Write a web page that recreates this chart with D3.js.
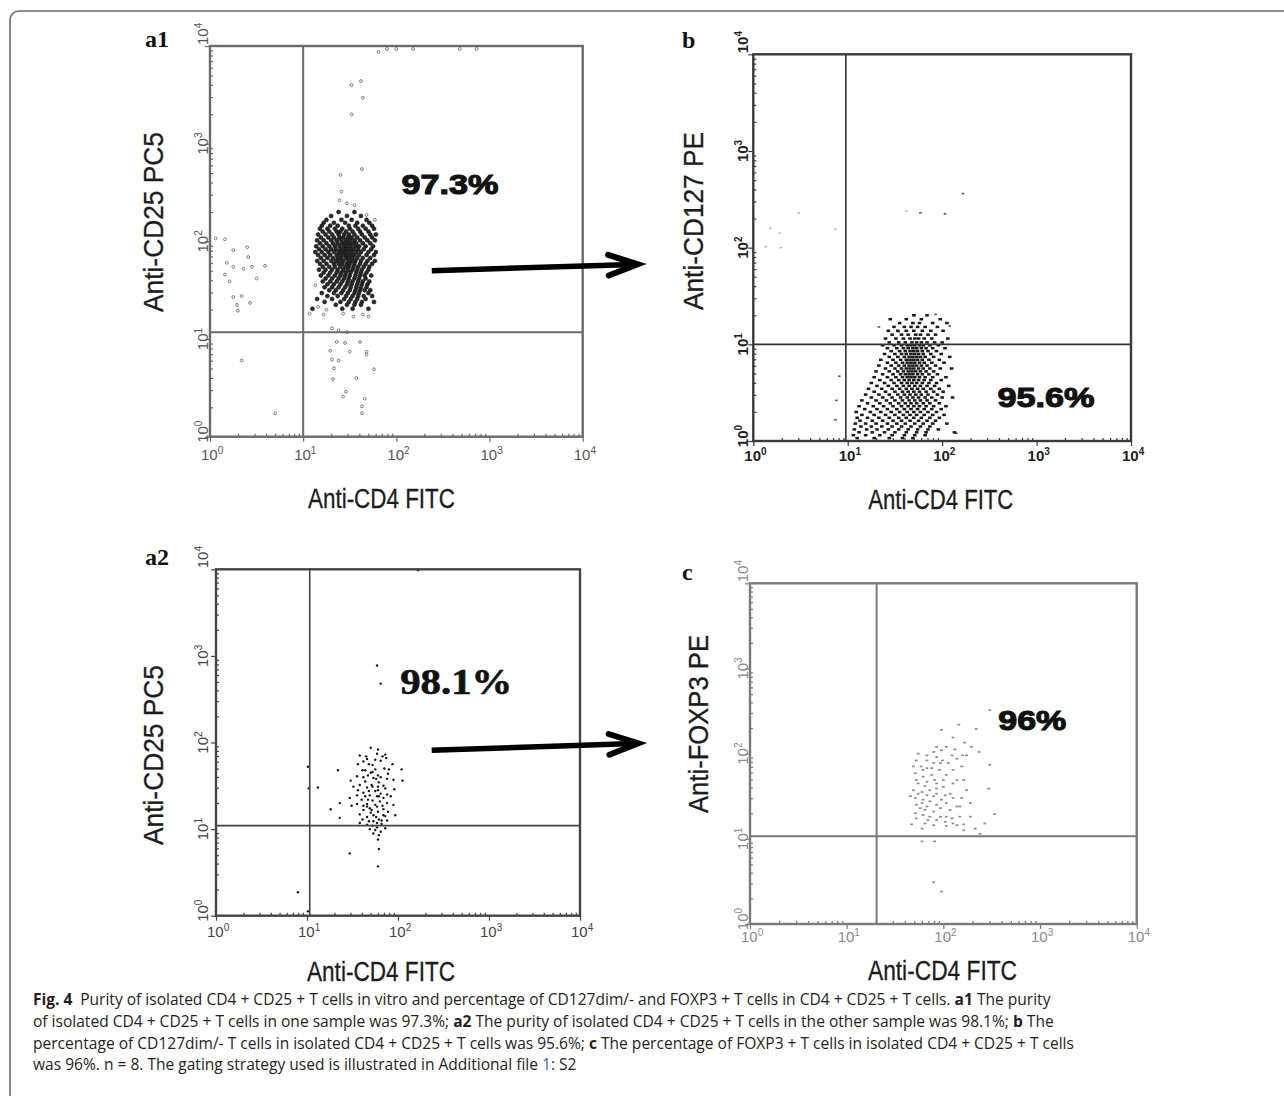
<!DOCTYPE html>
<html><head><meta charset="utf-8">
<script src="https://cdn.jsdelivr.net/npm/d3@7/dist/d3.min.js"></script>
<style>body{margin:0;background:#fff}svg{display:block}</style>
</head><body>
<svg id="fig" width="1284" height="1096"></svg>
<script>
// ---------------- DATA (log10 decades of fluorescence intensity) ----------------
const decades = [0, 1, 2, 3, 4];
const minorFactors = [2, 3, 4, 5, 6, 7, 8, 9];
const panelIds = ["a1", "b", "a2", "c"];
const xTitles = ["Anti-CD4 FITC", "Anti-CD4 FITC", "Anti-CD4 FITC", "Anti-CD4 FITC"];
const yTitles = ["Anti-CD25 PC5", "Anti-CD127 PE", "Anti-CD25 PC5", "Anti-FOXP3 PE"];
const percentLabels = ["97.3%", "95.6%", "98.1%", "96%"];
const percentPos = [[2.575, 2.58], [3.10, 0.455], [2.64, 2.69], [2.92, 2.39]];
const gates = [[1.00, 1.07], [0.98, 1.00], [1.03, 1.04], [1.31, 1.03]];
const arrowA1 = [[2.38, 1.70], [4.59, 1.765]];
const arrowA2 = [[2.37, 1.91], [4.64, 1.99]];

// a1: dense CD4+CD25+ cluster, rows of [log CD25, [log CD4 ...]]
const a1CoreRows = [
 [2.30,[1.38,1.55]],
 [2.26,[1.30,1.47,1.62]],
 [2.22,[1.25,1.41,1.52,1.68]],
 [2.19,[1.22,1.33,1.45,1.58,1.71]],
 [2.16,[1.20,1.29,1.37,1.49,1.56,1.64,1.74]],
 [2.13,[1.18,1.26,1.34,1.42,1.50,1.59,1.67,1.76]],
 [2.10,[1.21,1.28,1.36,1.40,1.46,1.53,1.61,1.70]],
 [2.07,[1.16,1.24,1.31,1.38,1.44,1.49,1.55,1.63,1.72,1.78]],
 [2.04,[1.19,1.27,1.33,1.39,1.43,1.48,1.52,1.58,1.66,1.74]],
 [2.01,[1.15,1.22,1.30,1.36,1.41,1.46,1.50,1.55,1.61,1.69,1.77]],
 [1.98,[1.18,1.25,1.32,1.37,1.42,1.45,1.49,1.53,1.57,1.64,1.72]],
 [1.95,[1.14,1.21,1.28,1.34,1.39,1.44,1.47,1.51,1.56,1.60,1.67,1.75]],
 [1.92,[1.17,1.24,1.30,1.35,1.40,1.43,1.46,1.50,1.54,1.59,1.65,1.73]],
 [1.89,[1.13,1.20,1.27,1.33,1.38,1.42,1.45,1.48,1.52,1.57,1.62,1.70,1.78]],
 [1.86,[1.16,1.23,1.29,1.36,1.40,1.44,1.47,1.51,1.55,1.60,1.68,1.76]],
 [1.83,[1.19,1.26,1.32,1.37,1.41,1.46,1.49,1.53,1.58,1.64,1.72]],
 [1.80,[1.15,1.22,1.30,1.35,1.39,1.43,1.48,1.52,1.56,1.62,1.69,1.77]],
 [1.77,[1.18,1.25,1.33,1.38,1.42,1.47,1.50,1.55,1.61,1.67,1.74]],
 [1.74,[1.21,1.28,1.34,1.40,1.45,1.49,1.54,1.59,1.65,1.71]],
 [1.71,[1.17,1.24,1.31,1.37,1.43,1.48,1.53,1.58,1.63,1.70]],
 [1.68,[1.22,1.29,1.36,1.41,1.46,1.51,1.57,1.62,1.68]],
 [1.65,[1.19,1.27,1.34,1.40,1.45,1.50,1.56,1.61,1.66,1.73]],
 [1.62,[1.24,1.31,1.38,1.44,1.49,1.55,1.60,1.67]],
 [1.59,[1.21,1.29,1.36,1.42,1.48,1.53,1.59,1.64,1.71]],
 [1.56,[1.26,1.33,1.40,1.47,1.52,1.58,1.63,1.69]],
 [1.53,[1.23,1.31,1.38,1.45,1.51,1.57,1.62,1.68]],
 [1.50,[1.28,1.35,1.43,1.50,1.56,1.61,1.66,1.72]],
 [1.47,[1.20,1.33,1.41,1.48,1.55,1.60,1.70]],
 [1.44,[1.26,1.37,1.46,1.53,1.59,1.65,1.74]],
 [1.41,[1.15,1.31,1.44,1.51,1.58,1.67]],
 [1.38,[1.23,1.40,1.49,1.56,1.63,1.76]],
 [1.35,[1.35,1.47,1.55,1.62]],
 [1.31,[1.10,1.42,1.53,1.70]]
];
// a1: scattered events [log CD4, log CD25]
const a1Sparse = [
 [1.07,1.26],[1.13,1.55],[1.16,1.33],[1.25,1.30],[1.31,1.11],[1.38,1.09],[1.47,1.07],[1.36,0.97],
 [1.45,0.96],[1.61,0.97],[1.29,0.88],[1.50,0.87],[1.68,0.87],[1.31,0.79],[1.38,0.78],[1.68,0.84],
 [1.33,0.70],[1.76,0.69],[1.32,0.59],[1.57,0.60],[1.46,0.46],[1.43,0.41],[1.66,0.39],[1.63,0.31],
 [1.63,0.24],[1.54,1.23],[1.64,1.25],[1.70,1.23],[1.43,1.26],[1.22,1.25],
 [1.52,3.60],[1.62,3.64],[1.64,3.47],[1.52,3.30],[1.63,2.74],[1.40,2.68],[1.41,2.51],[1.47,2.39],
 [1.55,2.37],[1.68,2.27],[1.77,2.22],[1.39,2.42],
 [1.81,3.94],[1.90,3.97],[2.00,3.97],[2.18,3.97],[2.68,3.97],[2.86,3.97],
 [0.06,2.03],[0.16,2.02],[0.25,1.91],[0.40,1.94],[0.41,1.84],[0.18,1.78],[0.25,1.74],[0.36,1.72],
 [0.45,1.74],[0.59,1.75],[0.16,1.66],[0.21,1.59],[0.50,1.62],[0.25,1.43],[0.34,1.44],[0.29,1.35],
 [0.30,1.29],[0.43,1.37],[0.34,0.78],[0.70,0.24]
];

// b: CD127 dim/- cluster, rows of [log CD127, [log CD4 ...]]
const bCoreRows = [
 [1.30,[1.70,1.84]],
 [1.26,[1.45,1.62,1.78,1.98]],
 [1.22,[1.55,1.69,1.76,1.90,2.05]],
 [1.18,[1.49,1.60,1.67,1.74,1.82,1.95]],
 [1.14,[1.43,1.53,1.62,1.70,1.79,1.88,2.01]],
 [1.10,[1.47,1.57,1.64,1.72,1.77,1.85,1.93]],
 [1.06,[1.40,1.51,1.59,1.66,1.71,1.75,1.81,1.89,2.06]],
 [1.02,[1.44,1.54,1.61,1.68,1.73,1.78,1.84,1.92,2.00]],
 [0.99,[1.37,1.49,1.57,1.63,1.67,1.71,1.76,1.80,1.87,1.96]],
 [0.96,[1.42,1.52,1.59,1.64,1.69,1.73,1.78,1.83,1.90,2.03]],
 [0.93,[1.46,1.55,1.61,1.66,1.70,1.74,1.79,1.85,1.94]],
 [0.90,[1.39,1.50,1.57,1.62,1.67,1.71,1.75,1.80,1.88,1.99]],
 [0.87,[1.44,1.53,1.60,1.65,1.69,1.73,1.77,1.82,1.91,2.08]],
 [0.84,[1.35,1.48,1.56,1.62,1.66,1.70,1.74,1.79,1.86,1.97]],
 [0.81,[1.42,1.51,1.58,1.63,1.67,1.71,1.76,1.81,1.89,2.02]],
 [0.78,[1.33,1.46,1.54,1.60,1.65,1.69,1.73,1.78,1.84,1.93]],
 [0.75,[1.40,1.50,1.57,1.62,1.66,1.70,1.75,1.80,1.87,1.98,2.10]],
 [0.72,[1.30,1.44,1.53,1.59,1.64,1.68,1.72,1.77,1.83,1.91]],
 [0.69,[1.37,1.48,1.56,1.61,1.65,1.69,1.74,1.79,1.86,1.95]],
 [0.66,[1.28,1.42,1.51,1.58,1.63,1.67,1.71,1.76,1.82,1.90,2.04]],
 [0.63,[1.34,1.46,1.54,1.60,1.65,1.70,1.75,1.81,1.88,1.99]],
 [0.60,[1.25,1.39,1.49,1.57,1.63,1.68,1.73,1.79,1.86,1.94]],
 [0.57,[1.31,1.43,1.52,1.59,1.65,1.71,1.77,1.84,1.92,2.07]],
 [0.54,[1.22,1.36,1.47,1.55,1.62,1.68,1.74,1.80,1.88,1.97]],
 [0.51,[1.28,1.40,1.50,1.58,1.64,1.70,1.76,1.83,1.91,2.01]],
 [0.48,[1.19,1.33,1.44,1.53,1.60,1.66,1.72,1.78,1.85,1.95]],
 [0.45,[1.25,1.37,1.47,1.56,1.63,1.69,1.75,1.82,1.89,2.00,2.11]],
 [0.42,[1.15,1.30,1.41,1.50,1.58,1.65,1.71,1.77,1.84,1.93]],
 [0.39,[1.21,1.34,1.45,1.54,1.61,1.67,1.73,1.80,1.87,1.97]],
 [0.36,[1.12,1.27,1.38,1.48,1.57,1.64,1.70,1.76,1.83,1.91,2.04]],
 [0.33,[1.18,1.31,1.42,1.52,1.60,1.67,1.74,1.81,1.89,1.99]],
 [0.30,[1.09,1.24,1.35,1.46,1.55,1.63,1.70,1.77,1.85,1.94]],
 [0.27,[1.15,1.28,1.40,1.50,1.59,1.66,1.73,1.81,1.90,2.02]],
 [0.24,[1.10,1.21,1.33,1.44,1.54,1.62,1.70,1.78,1.87,1.97]],
 [0.21,[1.13,1.26,1.37,1.48,1.57,1.66,1.75,1.84,1.93]],
 [0.18,[1.08,1.19,1.30,1.42,1.52,1.61,1.71,1.80,1.90,2.05]],
 [0.15,[1.14,1.25,1.36,1.47,1.57,1.67,1.77,1.87]],
 [0.12,[1.07,1.20,1.31,1.43,1.54,1.64,1.74,1.85,1.96]],
 [0.09,[1.12,1.26,1.39,1.50,1.62,1.73,1.83,2.13]],
 [0.06,[1.06,1.19,1.34,1.47,1.60,1.71,1.82]],
 [0.03,[1.10,1.28,1.44,1.58,1.69]]
];
const bSparse = [
 [1.77,2.36],[2.03,2.35],[2.22,2.56],[0.91,0.67],[0.88,0.42],[0.87,0.22],[1.33,1.18],
 [1.71,1.30],[1.93,1.31],[2.08,1.19],[1.54,1.13],[2.15,0.08]
];
const bFaint = [[0.18,2.20],[0.28,2.15],[0.48,2.36],[0.87,2.19],[0.13,2.01],[0.29,2.00],[1.62,2.38]];

// a2: events [log CD4, log CD25]
const a2Events = [
 [1.70,1.94],[1.78,1.92],[1.77,1.87],[1.86,1.86],[1.58,1.85],[1.66,1.81],[1.75,1.80],[1.81,1.79],
 [1.68,1.75],[1.56,1.75],[1.94,1.75],[1.34,1.68],[1.61,1.68],[1.75,1.69],[1.85,1.70],[1.90,1.69],
 [2.04,1.69],[1.70,1.65],[1.78,1.62],[1.62,1.60],[1.81,1.60],[1.73,1.59],[1.88,1.58],[1.48,1.56],
 [2.05,1.56],[1.58,1.51],[1.71,1.51],[1.78,1.49],[1.66,1.48],[1.86,1.47],[1.56,1.45],[1.75,1.44],
 [1.62,1.42],[1.81,1.41],[1.69,1.39],[1.88,1.40],[1.77,1.38],[1.84,1.36],[1.60,1.34],[1.47,1.36],
 [1.72,1.33],[1.80,1.32],[1.88,1.30],[1.55,1.29],[1.66,1.29],[1.95,1.28],[1.77,1.26],[1.36,1.30],
 [1.49,1.27],[1.69,1.24],[1.84,1.23],[1.62,1.22],[1.78,1.20],[1.89,1.20],[1.58,1.17],[1.73,1.16],
 [1.26,1.23],[1.86,1.15],[1.97,1.16],[1.66,1.14],[1.36,1.13],[1.79,1.11],[1.73,1.09],[1.88,1.10],
 [1.58,1.07],[1.66,1.05],[1.82,1.06],[1.77,1.02],[1.69,1.00],[1.86,1.01],[1.73,0.95],[1.79,0.93],
 [1.78,0.88],[1.47,0.72],[1.79,0.77],[1.78,0.57],[1.12,1.48],[0.90,0.27],[1.01,0.05],[1.01,1.72],
 [1.02,1.47],[1.77,2.89],[1.81,2.68],[2.22,3.99],
 [1.67,1.62],[1.72,1.66],[1.64,1.55],[1.79,1.54],[1.76,1.58],[1.68,1.44],[1.64,1.38],[1.79,1.38],
 [1.75,1.28],[1.70,1.19],[1.83,1.27],[1.66,1.26],[1.92,1.38],[1.55,1.39],[1.96,1.46],[1.51,1.49],
 [1.82,1.10],[1.61,1.11],[1.77,1.07],[1.72,1.04],[1.84,1.16],[1.62,1.27],[1.67,1.34],[1.78,1.45],
 [1.84,1.50],[1.55,1.61],[1.72,1.49],[1.76,1.14],[1.71,1.22],[1.75,0.99],[1.81,0.97],[1.68,1.09],
 [1.64,1.68],[1.89,1.64],[1.95,1.57],[1.87,1.82],[1.62,1.78],[1.65,1.84],[1.83,1.84],[1.72,1.74]
];

// c: events [log CD4, log FOXP3]
const cEvents = [
 [2.48,2.51],[2.16,2.34],[2.34,2.29],[1.98,2.28],[2.10,2.19],[2.22,2.13],[1.93,2.08],[2.03,2.08],
 [2.12,2.05],[2.37,2.02],[2.20,1.98],[2.24,1.98],[1.74,2.00],[1.83,1.98],[1.99,1.92],[1.93,1.96],
 [1.69,1.85],[1.77,1.85],[1.83,1.92],[1.90,1.89],[1.96,1.81],[2.10,1.81],[2.19,1.85],[2.48,1.87],
 [1.71,1.77],[1.79,1.73],[1.88,1.75],[2.03,1.75],[2.14,1.69],[1.74,1.65],[1.83,1.67],[1.93,1.65],
 [2.00,1.61],[2.10,1.65],[1.69,1.57],[1.78,1.55],[1.86,1.57],[1.93,1.59],[2.47,1.59],[2.07,1.53],
 [1.71,1.48],[1.79,1.46],[1.90,1.50],[1.98,1.46],[2.10,1.48],[2.19,1.48],[1.83,1.38],[1.93,1.40],
 [2.03,1.42],[1.76,1.36],[1.90,1.32],[1.79,1.28],[1.86,1.26],[1.97,1.26],[2.09,1.24],[2.17,1.26],
 [2.28,1.26],[2.53,1.29],[1.67,1.17],[1.81,1.18],[1.90,1.16],[2.03,1.15],[2.14,1.16],[2.21,1.17],
 [2.43,1.18],[2.38,1.06],[1.78,0.97],[1.91,0.97],[1.90,0.49],[1.98,0.38],
 [1.72,1.92],[1.79,1.81],[1.88,1.83],[1.72,1.69],[1.81,1.62],[1.91,1.69],[2.00,1.69],[1.74,1.53],
 [1.83,1.51],[1.93,1.53],[2.02,1.51],[1.78,1.42],[1.86,1.44],[1.97,1.36],[2.07,1.34],[1.81,1.34],
 [1.71,1.30],[1.93,1.22],[2.02,1.20],[1.84,1.22],[2.10,1.18],[1.72,1.24],[2.17,1.38],[2.28,1.42],
 [2.05,1.89],[2.14,1.94],[2.29,2.08],[2.21,1.69],[2.24,1.57],[1.98,2.04],[1.90,2.02],[2.09,1.98],
 [1.83,1.83],[1.97,1.89],[1.72,1.40],[1.66,1.50],[2.14,1.38],[2.03,1.26],[1.78,1.12],[2.21,1.10],
 [2.33,1.12]
];

const captionLines = [
 [["Fig. 4","b"],["\u2002Purity of isolated CD4 + CD25 + T cells in vitro and percentage of CD127dim/- and FOXP3 + T cells in CD4 + CD25 + T cells. ","n"],["a1","b"],[" The purity","n"]],
 [["of isolated CD4 + CD25 + T cells in one sample was 97.3%; ","n"],["a2","b"],[" The purity of isolated CD4 + CD25 + T cells in the other sample was 98.1%; ","n"],["b","b"],[" The","n"]],
 [["percentage of CD127dim/- T cells in isolated CD4 + CD25 + T cells was 95.6%; ","n"],["c","b"],[" The percentage of FOXP3 + T cells in isolated CD4 + CD25 + T cells","n"]],
 [["was 96%. n = 8. The gating strategy used is illustrated in Additional file ","n"],["1","l"],[": S2","n"]]
];

// ---------------- LAYOUT / STYLE ----------------
const flatRows = rows => rows.flatMap(([yv, xs]) => xs.map(xv => [xv, yv]));
const layout = [
 {x0:210, x1:582.7, y0:46, y1:436.7, letter:[145,47], xt:[381.5,508,147], yt:[163,222,180],
  xlOff:23, ylX:208, tickFill:"#555", tickW:"normal", box:"#6a6a6a", gate:"#6a6a6a", gateW:2,
  pctFont:"'Liberation Sans',Arial,sans-serif", pctSize:28, pctLen:97},
 {x0:753.3, x1:1131, y0:54.3, y1:441, letter:[682,48], xt:[940.8,509,145], yt:[703,221,178],
  xlOff:20, ylX:748, tickFill:"#222", tickW:"bold", box:"#3a3a3a", gate:"#333", gateW:1.6,
  pctFont:"'Liberation Sans',Arial,sans-serif", pctSize:28, pctLen:97},
 {x0:216, x1:580, y0:569.3, y1:915.7, letter:[145,565], xt:[381,981,148], yt:[163,755,180],
  xlOff:21, ylX:208, tickFill:"#444", tickW:"normal", box:"#444", gate:"#444", gateW:1.6,
  pctFont:"'Liberation Serif','Times New Roman',serif", pctSize:35, pctLen:112},
 {x0:750, x1:1136.7, y0:583.3, y1:924, letter:[682,580], xt:[942.5,980,149], yt:[708,724,178],
  xlOff:18, ylX:748, tickFill:"#8a8a8a", tickW:"normal", box:"#7a7a7a", gate:"#7a7a7a", gateW:2,
  pctFont:"'Liberation Sans',Arial,sans-serif", pctSize:28, pctLen:68}
];

const svg = d3.select("#fig");
svg.append("rect").attr("x",10).attr("y",11).attr("width",1400).attr("height",1300)
  .attr("rx",9).attr("fill","none").attr("stroke","#6b6b6b").attr("stroke-width",1.6);

const panels = layout.map((L, i) => {
  const x = d3.scaleLinear().domain([0, 4]).range([L.x0, L.x1]);
  const y = d3.scaleLinear().domain([0, 4]).range([L.y1, L.y0]);
  return {L, x, y, g: svg.append("g").attr("class","panel-"+panelIds[i])};
});

// ---- events ----
{
  const {g, x, y} = panels[0];
  g.append("g").selectAll("circle").data(a1Sparse).join("circle")
    .attr("cx", d => x(d[0])).attr("cy", d => y(d[1])).attr("r", 1.4)
    .attr("fill","none").attr("stroke","#6e6e6e").attr("stroke-width",0.9);
  g.append("g").selectAll("circle").data(flatRows(a1CoreRows)).join("circle")
    .attr("cx", d => x(d[0])).attr("cy", d => y(d[1])).attr("r", 2.0)
    .attr("fill","#2a2a2a").attr("stroke","#111").attr("stroke-width",0.6);
}
{
  const {g, x, y} = panels[1];
  g.append("g").selectAll("rect").data(bFaint).join("rect")
    .attr("x", d => x(d[0]) - 1.3).attr("y", d => y(d[1]) - 0.8).attr("width",2.6).attr("height",1.6)
    .attr("fill","#bbb");
  g.append("g").selectAll("rect").data(bSparse).join("rect")
    .attr("x", d => x(d[0]) - 1.3).attr("y", d => y(d[1]) - 0.8).attr("width",2.6).attr("height",1.6)
    .attr("fill","#555");
  g.append("g").selectAll("rect").data(flatRows(bCoreRows)).join("rect")
    .attr("x", d => x(d[0]) - 1.8).attr("y", d => y(d[1]) - 1.25).attr("width",3.6).attr("height",2.5)
    .attr("fill","#1a1a1a");
}
{
  const {g, x, y} = panels[2];
  g.append("g").selectAll("circle").data(a2Events).join("circle")
    .attr("cx", d => x(d[0])).attr("cy", d => y(d[1])).attr("r", 1.2).attr("fill","#151515");
}
{
  const {g, x, y} = panels[3];
  g.append("g").selectAll("rect").data(cEvents).join("rect")
    .attr("x", d => x(d[0]) - 1.4).attr("y", d => y(d[1]) - 0.85).attr("width",2.8).attr("height",1.7)
    .attr("fill","#8c8c8c");
}

// ---- frames, gates, axes, labels ----
const minorTicks = decades.slice(0, -1).flatMap(d => minorFactors.map(k => d + Math.log10(k)));
panels.forEach(({L, x, y, g}, i) => {
  const gv = gates[i];
  g.append("line").attr("x1", x(gv[0])).attr("x2", x(gv[0])).attr("y1", y(0)).attr("y2", y(4))
    .attr("stroke", L.gate).attr("stroke-width", L.gateW);
  g.append("line").attr("x1", x(0)).attr("x2", x(4)).attr("y1", y(gv[1])).attr("y2", y(gv[1]))
    .attr("stroke", L.gate).attr("stroke-width", L.gateW);
  g.append("rect").attr("x", x(0)).attr("y", y(4)).attr("width", x(4) - x(0)).attr("height", y(0) - y(4))
    .attr("fill","none").attr("stroke", L.box).attr("stroke-width", 2.4);

  const styleAxis = sel => { sel.select(".domain").remove();
    sel.selectAll("line").attr("stroke", L.box).attr("stroke-width", 1.2); };
  g.append("g").attr("transform",`translate(0,${y(0)})`)
    .call(d3.axisBottom(x).tickValues(decades).tickSize(5).tickFormat("")).call(styleAxis);
  g.append("g").attr("transform",`translate(0,${y(0)})`)
    .call(d3.axisBottom(x).tickValues(minorTicks).tickSize(-3).tickFormat("")).call(styleAxis);
  g.append("g").attr("transform",`translate(${x(0)},0)`)
    .call(d3.axisLeft(y).tickValues(decades).tickSize(5).tickFormat("")).call(styleAxis);
  g.append("g").attr("transform",`translate(${x(0)},0)`)
    .call(d3.axisLeft(y).tickValues(minorTicks).tickSize(-3).tickFormat("")).call(styleAxis);

  const tickFont = "'Liberation Sans',Arial,sans-serif";
  decades.forEach(d => {
    const t = g.append("text").attr("x", x(d) - 9).attr("y", y(0) + L.xlOff)
      .attr("font-family", tickFont).attr("font-size", 15).attr("font-weight", L.tickW)
      .attr("fill", L.tickFill);
    t.append("tspan").text("10");
    t.append("tspan").attr("dy", -6).attr("font-size", 10).text(String(d));
  });
  decades.forEach(d => {
    const anchor = d === 4 ? "start" : "middle";
    const yy = d === 4 ? y(d) - 1 : (d === 0 ? y(d) - 5 : y(d));
    const t = g.append("text").attr("transform", `translate(${L.ylX},${yy}) rotate(-90)`)
      .attr("text-anchor", anchor)
      .attr("font-family", tickFont).attr("font-size", 15).attr("font-weight", L.tickW)
      .attr("fill", L.tickFill);
    t.append("tspan").text("10");
    t.append("tspan").attr("dy", -6).attr("font-size", 10).text(String(d));
  });

  g.append("text").attr("x", L.xt[0]).attr("y", L.xt[1]).attr("text-anchor","middle")
    .attr("font-family","'Liberation Sans',Arial,sans-serif").attr("font-size",27)
    .attr("fill","#1c1c1c").attr("stroke","#1c1c1c").attr("stroke-width",0.3)
    .attr("textLength", L.xt[2]).attr("lengthAdjust","spacingAndGlyphs").text(xTitles[i]);
  g.append("text").attr("transform",`translate(${L.yt[0]},${L.yt[1]}) rotate(-90)`)
    .attr("text-anchor","middle")
    .attr("font-family","'Liberation Sans',Arial,sans-serif").attr("font-size",27)
    .attr("fill","#1c1c1c").attr("stroke","#1c1c1c").attr("stroke-width",0.3)
    .attr("textLength", L.yt[2]).attr("lengthAdjust","spacingAndGlyphs").text(yTitles[i]);

  g.append("text").attr("x", L.letter[0]).attr("y", L.letter[1])
    .attr("font-family","'Liberation Serif','Times New Roman',serif").attr("font-weight","bold")
    .attr("font-size",24).attr("fill","#111").text(panelIds[i]);

  g.append("text").attr("x", x(percentPos[i][0])).attr("y", y(percentPos[i][1]))
    .attr("text-anchor","middle").attr("dominant-baseline","central")
    .attr("font-family", L.pctFont).attr("font-weight","bold").attr("font-size", L.pctSize)
    .attr("fill","#111").attr("stroke","#111").attr("stroke-width", i === 2 ? 0.6 : 1.1)
    .attr("textLength", L.pctLen).attr("lengthAdjust","spacingAndGlyphs").text(percentLabels[i]);
});

// ---- arrows (in the coordinates of the source panel) ----
function drawArrow(p, pts) {
  const [s, e] = pts.map(d => [p.x(d[0]), p.y(d[1])]);
  const ang = Math.atan2(e[1] - s[1], e[0] - s[0]);
  const arm = 31, spread = 0.34;
  const a1 = [e[0] - arm * Math.cos(ang - spread), e[1] - arm * Math.sin(ang - spread)];
  const a2 = [e[0] - arm * Math.cos(ang + spread), e[1] - arm * Math.sin(ang + spread)];
  const line = d3.line();
  svg.append("path").attr("d", line([s, [e[0] - 4 * Math.cos(ang), e[1] - 4 * Math.sin(ang)]]))
    .attr("fill","none").attr("stroke","#000").attr("stroke-width",5.5);
  svg.append("path").attr("d", line([a1, e, a2]))
    .attr("fill","none").attr("stroke","#000").attr("stroke-width",6)
    .attr("stroke-linecap","round").attr("stroke-linejoin","miter");
}
drawArrow(panels[0], arrowA1);
drawArrow(panels[2], arrowA2);

// ---- caption: one text per line, natural glyph widths (font size fitted to the reference width) ----
const capX = 33;
const capBase = [1005, 1027, 1048.5, 1070];
const capWidth = [1012.7, 1021.7, 1061, 624];
const capFont = "'Open Sans','Noto Sans',sans-serif";
const capLines = captionLines.map((segs, li) => {
  const t = svg.append("text").attr("x", capX).attr("y", capBase[li])
    .attr("font-family", capFont).attr("font-size", 17.5).attr("fill", "#231f20")
    .style("white-space", "pre");
  segs.forEach(([txt, st]) => t.append("tspan").text(txt)
    .attr("font-weight", st === "b" ? "bold" : "normal")
    .attr("fill", st === "l" ? "#2f6db5" : "#231f20"));
  return t;
});
const ratios = capLines.slice(0, 3).map((t, li) => capWidth[li] / t.node().getComputedTextLength());
const capSize = 17.5 * d3.median(ratios);
capLines.forEach(t => t.attr("font-size", capSize));
</script>
</body></html>
